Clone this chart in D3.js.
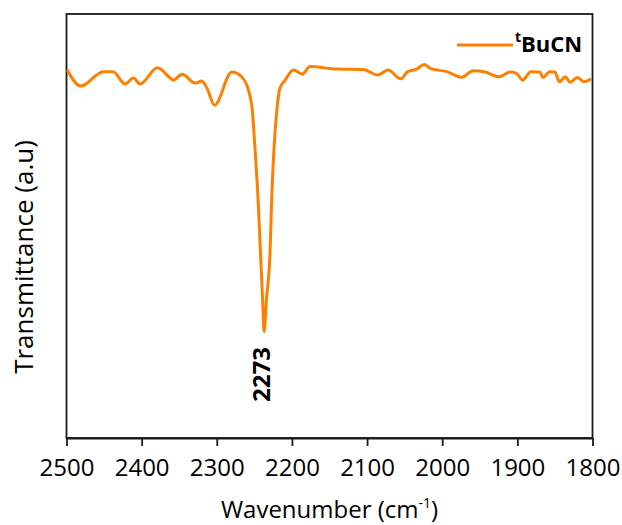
<!DOCTYPE html>
<html>
<head>
<meta charset="utf-8">
<script src="https://cdn.jsdelivr.net/npm/d3@7"></script>
<style>
  body { margin: 0; background: #fff; }
  svg { display: block; }
  text { font-family: "Open Sans", "Liberation Sans", sans-serif; fill: #000; }
</style>
</head>
<body>
<svg id="chart" width="622" height="525"></svg>
<script>
// Data
const wavenumber = [2499, 2481, 2451, 2438, 2422, 2411, 2402, 2379, 2362, 2358, 2346, 2329, 2320, 2313, 2303,
  2280, 2267, 2258, 2253, 2249, 2245, 2242, 2239, 2237, 2234, 2229, 2227, 2224, 2220, 2216, 2209, 2198,
  2186, 2176, 2140, 2105, 2086, 2072, 2055, 2046, 2034, 2024, 2016, 1994, 1974, 1959, 1943, 1924, 1910,
  1901, 1893, 1882, 1870, 1866, 1857, 1850, 1844, 1836, 1830, 1820, 1811, 1802];
const transmittance = [86.8, 83.0, 86.4, 86.4, 83.5, 84.9, 83.5, 87.3, 84.9, 84.4, 85.8, 83.7, 84.2, 82.5, 78.5,
  86.3, 85.2, 82.1, 77.8, 67.9, 56.1, 44.3, 32.5, 25.1, 32.5, 44.3, 56.1, 67.9, 77.4, 82.5, 84.4, 86.8,
  85.8, 87.6, 87.0, 86.9, 85.6, 86.8, 84.7, 86.4, 87.0, 88.1, 87.2, 86.4, 85.1, 86.6, 86.3, 85.2, 86.3,
  86.0, 84.4, 86.4, 86.3, 85.0, 86.4, 86.3, 84.0, 85.2, 83.9, 85.0, 84.0, 84.7];
const xTicks = [2500, 2400, 2300, 2200, 2100, 2000, 1900, 1800];
const seriesName = "BuCN";
const seriesPrefix = "t";
const peakLabel = "2273";
const peakIndex = 23;

(function () {
const svg = d3.select("#chart");
const mLeft = 66.5, mRight = 592.5, mTop = 14, mBottom = 438;

const x = d3.scaleLinear().domain([2500, 1800]).range([mLeft, mRight]);
const y = d3.scaleLinear().domain([0, 100]).range([mBottom, mTop]);

const color = "#ff8000";

// frame
svg.append("rect")
  .attr("x", mLeft).attr("y", mTop)
  .attr("width", mRight - mLeft).attr("height", mBottom - mTop)
  .attr("fill", "none").attr("stroke", "#1a1a1a").attr("stroke-width", 1.8);

// x axis
const xAxis = d3.axisBottom(x).tickValues(xTicks).tickSize(8).tickSizeOuter(0).tickFormat(d3.format("d"));
const gx = svg.append("g").attr("transform", `translate(0,${mBottom})`).call(xAxis);
gx.select(".domain").attr("stroke", "#1a1a1a").attr("stroke-width", 1.8);
gx.selectAll(".tick line").attr("stroke", "#1a1a1a").attr("stroke-width", 1.8);
gx.selectAll(".tick text")
  .attr("dy", null).attr("y", 38)
  .style("font-family", "'Open Sans', sans-serif")
  .style("font-size", "24px").attr("fill", "#000");

// line
const data = wavenumber.map((w, i) => ({ w, t: transmittance[i] }));
const line = d3.line().x(d => x(d.w)).y(d => y(d.t)).curve(d3.curveMonotoneX);
svg.append("path").datum(data)
  .attr("d", line)
  .attr("fill", "none").attr("stroke", color).attr("stroke-width", 3)
  .attr("stroke-linejoin", "round");

// peak label
const pk = data[peakIndex];
svg.append("text")
  .attr("transform", `translate(${x(pk.w) + 6},${y(pk.t) + 43}) rotate(-90)`)
  .attr("text-anchor", "middle")
  .style("font-size", "24px").style("font-weight", "bold")
  .text(peakLabel);

// legend
svg.append("line")
  .attr("x1", 457).attr("x2", 513).attr("y1", 45).attr("y2", 45)
  .attr("stroke", color).attr("stroke-width", 3);
const lt = svg.append("text").attr("x", 515).attr("y", 52)
  .style("font-size", "22px").style("font-weight", "bold");
lt.append("tspan").attr("dy", -10).style("font-size", "14px").text(seriesPrefix);
lt.append("tspan").attr("dy", 10).text(seriesName);

// axis titles
const xt = svg.append("text")
  .attr("x", (mLeft + mRight) / 2).attr("y", 518)
  .attr("text-anchor", "middle")
  .style("font-size", "24px");
xt.append("tspan").text("Wavenumber (cm");
xt.append("tspan").attr("dy", -10).style("font-size", "14px").text("-1");
xt.append("tspan").attr("dy", 10).text(")");

svg.append("text")
  .attr("transform", `translate(33,257) rotate(-90)`)
  .attr("text-anchor", "middle")
  .style("font-size", "26px")
  .text("Transmittance (a.u)");
})();
</script>
</body>
</html>
